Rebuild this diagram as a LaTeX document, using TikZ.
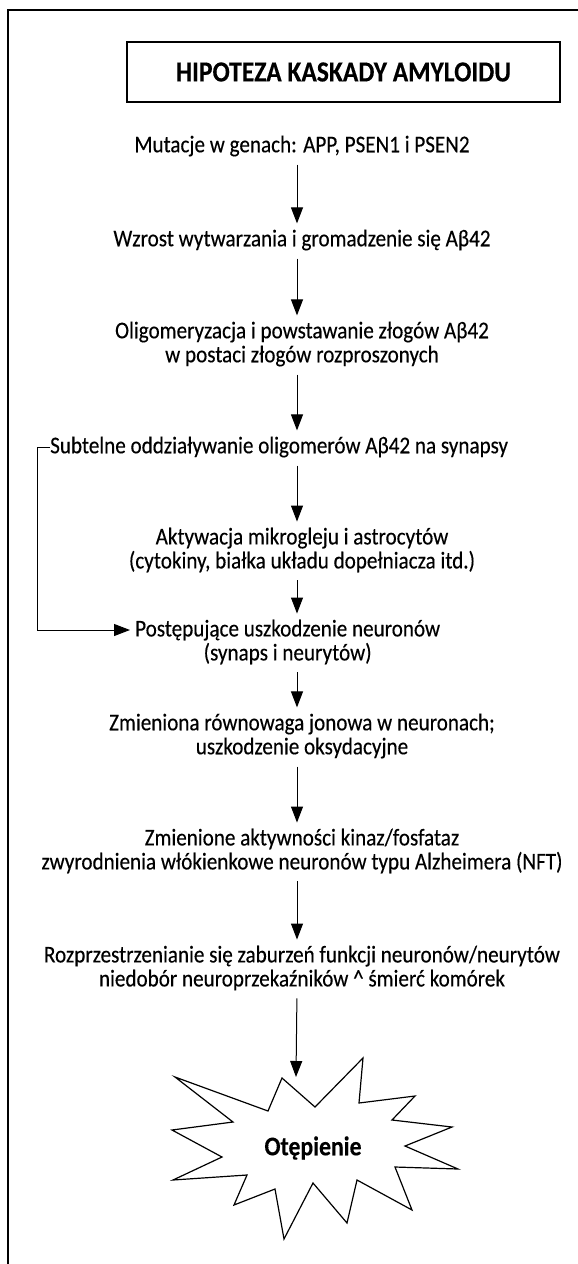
\documentclass[tikz,border=0pt]{standalone}
\usepackage{fontspec}
\setmainfont{Carlito}[FakeStretch=0.88,FakeBold=0.3]
\usetikzlibrary{arrows.meta,positioning}

\begin{document}
\begin{tikzpicture}[x=1pt,y=-1pt,
    flow/.style={-{Triangle[length=16pt,width=12pt]},line width=1pt,
      shorten <=8pt,shorten >=6pt},
    stage/.style={align=center,inner sep=0pt,
      font=\fontsize{24}{24}\selectfont},
    headbox/.style={draw,line width=1.3pt,minimum width=433pt,
      minimum height=60pt,font=\fontsize{29}{29}\selectfont\bfseries}]
  \useasboundingbox (0,0) rectangle (578,1264);
  % ramka
  \draw[line width=1.1pt] (8,1264) -- (8,10) -- (578,10);
  \node[headbox] (title) at (343.5,72) {HIPOTEZA KASKADY AMYLOIDU};
  \coordinate (axis) at (297,0);
  % etapy kaskady
  \node[stage] (mut) at (302,146) {Mutacje w genach: APP, PSEN1 i PSEN2};
  \node[stage] (wzr) at (302,240) {Wzrost wytwarzania i gromadzenie się Aβ42};
  \node[stage] (oli) at (302,344) {Oligomeryzacja i powstawanie złogów Aβ42\\
    w postaci złogów rozproszonych};
  \node[stage,anchor=west] (sub) at (50,447) {Subtelne oddziaływanie oligomerów Aβ42 na synapsy};
  \node[stage] (akt) at (302,550) {Aktywacja mikrogleju i astrocytów\\
    (cytokiny, białka układu dopełniacza itd.)};
  \node[stage,anchor=west] (pos) at (135,642) {Postępujące uszkodzenie neuronów\\
    (synaps i neurytów)};
  \node[stage] (zmj) at (302,736) {Zmieniona równowaga jonowa w neuronach;\\
    uszkodzenie oksydacyjne};
  \node[stage] (zmk) at (302,851) {Zmienione aktywności kinaz/fosfataz\\
    zwyrodnienia włókienkowe neuronów typu Alzheimera (NFT)};
  \node[stage] (roz) at (302,968) {Rozprzestrzenianie się zaburzeń funkcji neuronów/neurytów\\
    niedobór neuroprzekaźników \textasciicircum{} śmierć komórek};
  % gwiazda
  \draw[line width=1.2pt,line join=miter] (175,1077) -- (268,1111) -- (282,1078)
    -- (315,1107) -- (363,1058) -- (359,1103) -- (415,1096) -- (392,1120)
    -- (452,1127) -- (405,1146) -- (458,1169) -- (395,1167) -- (412,1210)
    -- (357,1180) -- (347,1223) -- (313,1183) -- (284,1239) -- (275,1189)
    -- (234,1205) -- (247,1175) -- (173,1180) -- (222,1157) -- (172,1130)
    -- (233,1122) -- cycle;
  \node[stage,font=\fontsize{27}{27}\selectfont\bfseries] (dem) at (313,1148) {Otępienie};
  \coordinate (startop) at (296,1077);

  \draw[flow] (mut.south -| axis) -- (wzr.north -| axis);
  \draw[flow] (wzr.south -| axis) -- (oli.north -| axis);
  \draw[flow] (oli.south -| axis) -- (sub.north -| axis);
  \draw[flow] (sub.south -| axis) -- (akt.north -| axis);
  \draw[flow] (akt.south -| axis) -- (pos.north -| axis);
  \draw[flow] (pos.south -| axis) -- (zmj.north -| axis);
  \draw[flow] (zmj.south -| axis) -- (zmk.north -| axis);
  \draw[flow] (zmk.south -| axis) -- (roz.north -| axis);
  \draw[flow,shorten >=0pt] (roz.south -| axis) -- (startop);
  % petla zwrotna
  \draw[flow,shorten <=0pt,shorten >=5pt] (sub.west) -- ++(-13,0)
    |- ([yshift=12pt]pos.west);
\end{tikzpicture}
\end{document}
